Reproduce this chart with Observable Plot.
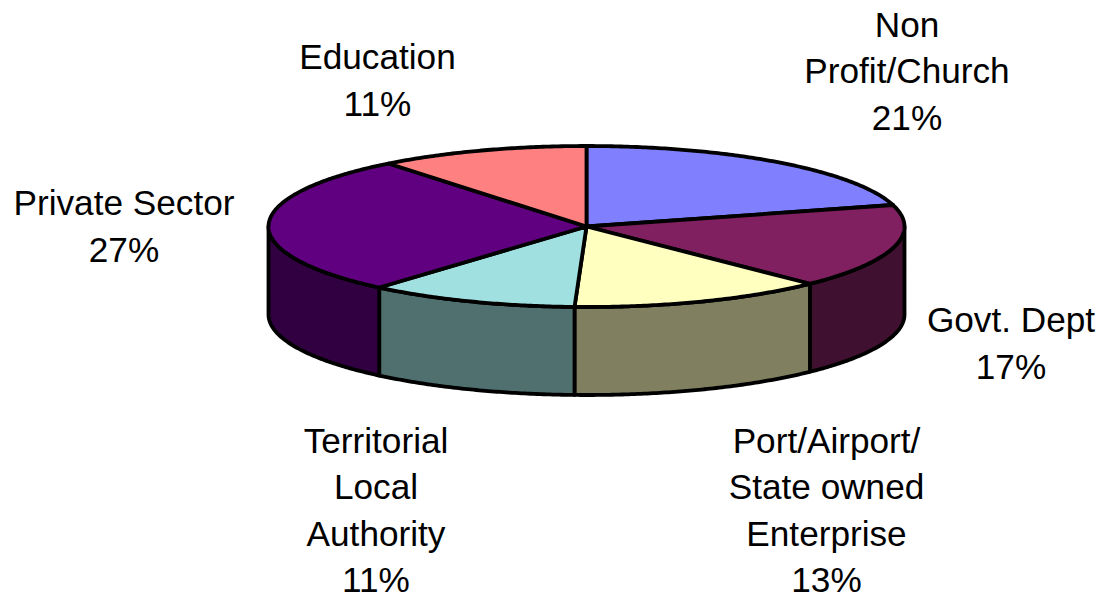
<!DOCTYPE html>
<html>
<head>
<meta charset="utf-8">
<style>html,body{margin:0;padding:0;background:#fff}svg{display:block}</style>
<script src="https://cdn.jsdelivr.net/npm/d3@7"></script>
<script src="https://cdn.jsdelivr.net/npm/@observablehq/plot@0.6"></script>
</head>
<body>
<div id="chart"></div>
<script>
// Data, clockwise from twelve o'clock
const categories = ["Non\nProfit/Church", "Govt. Dept", "Port/Airport/\nState owned\nEnterprise", "Territorial\nLocal\nAuthority", "Private Sector", "Education"];
const percentLabels = ["21%", "17%", "13%", "11%", "27%", "11%"];
// Slice sizes as read from the drawn (foreshortened) pie
const shares = [20.7, 16.9, 13.0, 10.7, 28.0, 10.7];
const topColors = ["#8080ff", "#802060", "#ffffc0", "#a0e0e0", "#600080", "#ff8080"];
const sideColors = ["#404080", "#401030", "#808060", "#507070", "#300040", "#804040"];

// Layout (in chart units, separate from the data)
const pie = {cx: 586, cy: 226, rx: 318, ry: 80.5, depth: 88};
const labelX = [906.5, 1010.5, 826, 375.5, 123.5, 377];
const labelY = [68, 340, 507, 507, 223, 77];

const total = d3.sum(shares);
const ends = d3.cumsum(shares).map(v => v / total * 2 * Math.PI);
const starts = [0, ...ends.slice(0, -1)];
const px = a => pie.cx + pie.rx * Math.sin(a);
const py = (a, drop = 0) => pie.cy - pie.ry * Math.cos(a) + drop;
const arc = (a0, a1) => {
  const n = Math.max(2, Math.ceil((a1 - a0) / 0.01));
  return d3.range(n + 1).map(i => a0 + (a1 - a0) * i / n);
};

const walls = [];
const faces = [];
categories.forEach((name, i) => {
  const a0 = Math.max(starts[i], Math.PI / 2);
  const a1 = Math.min(ends[i], 3 * Math.PI / 2);
  if (a1 > a0) {
    const as = arc(a0, a1);
    as.forEach(a => walls.push({key: name, fill: sideColors[i], x: px(a), y: py(a)}));
    as.slice().reverse().forEach(a => walls.push({key: name, fill: sideColors[i], x: px(a), y: py(a, pie.depth)}));
  }
  faces.push({key: name, fill: topColors[i], x: pie.cx, y: pie.cy});
  arc(starts[i], ends[i]).forEach(a => faces.push({key: name, fill: topColors[i], x: px(a), y: py(a)}));
});

const labels = categories.map((name, i) => ({text: name + "\n" + percentLabels[i], x: labelX[i], y: labelY[i]}));

const sliceStyle = {x: "x", y: "y", z: "key", fill: "fill", stroke: "#000", strokeWidth: 3.8, strokeLinejoin: "round", curve: "linear-closed"};

const chart = Plot.plot({
  width: 1101,
  height: 596,
  margin: 0,
  x: {domain: [0, 1101], range: [0, 1101], axis: null},
  y: {domain: [0, 596], range: [0, 596], axis: null},
  color: {type: "identity"},
  style: {background: "#fff"},
  marks: [
    Plot.line(walls, sliceStyle),
    Plot.line(faces, sliceStyle),
    Plot.text(labels, {x: "x", y: "y", text: "text", fontFamily: "Liberation Sans", fontSize: 35.2, lineHeight: 1.32, lineAnchor: "middle", textAnchor: "middle", fill: "#000"})
  ]
});
document.getElementById("chart").append(chart);
</script>
</body>
</html>
